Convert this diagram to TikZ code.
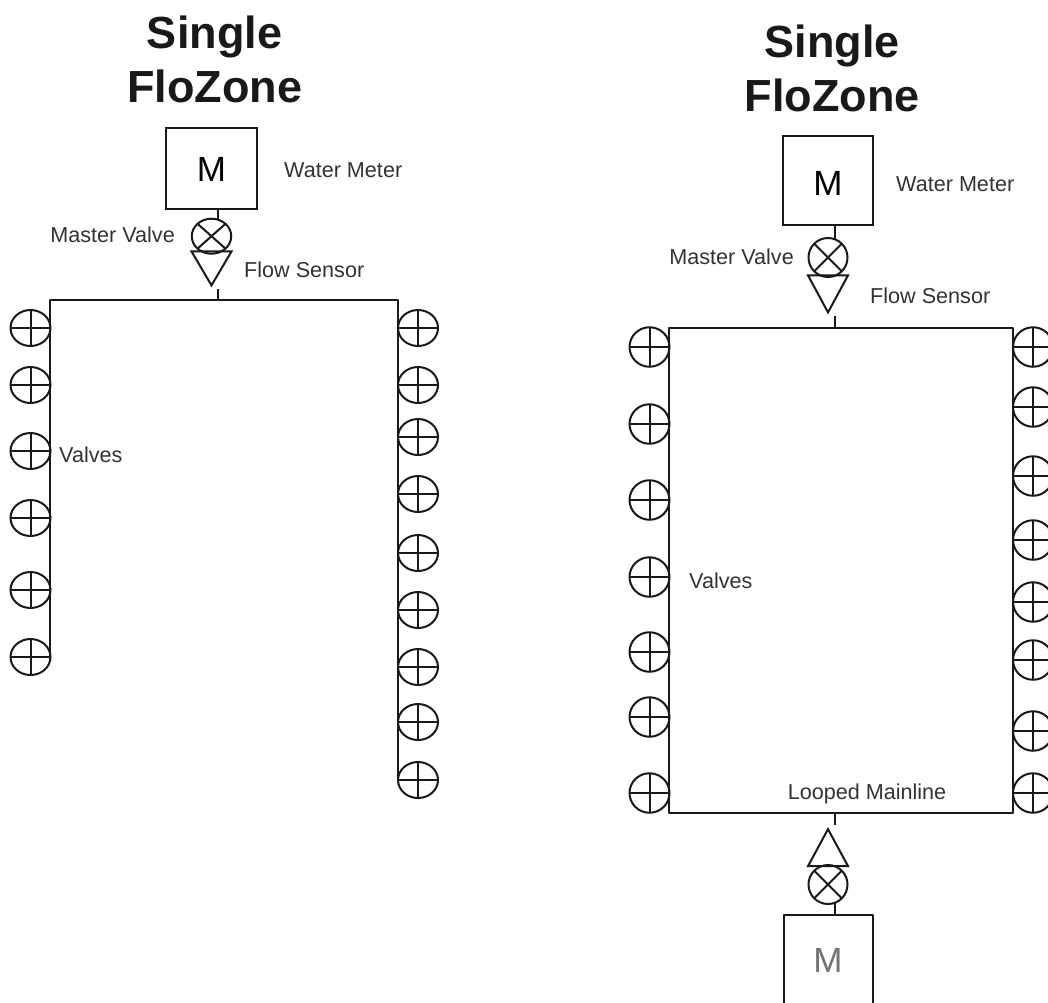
\documentclass[tikz,border=0pt]{standalone}
\usepackage{fontspec}
\setmainfont{Liberation Sans}
\usetikzlibrary{shapes.geometric}
\definecolor{lbl}{HTML}{333333}
\tikzset{
  x=1pt,y=-1pt,
  pipe/.style={draw=black!90,line width=2pt},
  lab/.style={text=lbl,inner sep=0pt,font=\fontsize{21.6}{24}\selectfont},
  ttl/.style={inner sep=0pt,align=center,text=black!90,font=\fontsize{45}{54}\selectfont\bfseries},
  meter/.style={pipe,inner sep=0pt,minimum width=90.4pt,minimum height=80.4pt},
  mletter/.style={inner sep=0pt,font=\fontsize{35}{40}\selectfont},
  plusvalve/.style={pipe,ellipse,inner sep=0pt,minimum width=40pt,minimum height=36pt,
    path picture={\draw[black!90,line width=2pt]
      (path picture bounding box.west)--(path picture bounding box.east)
      (path picture bounding box.north)--(path picture bounding box.south);}},
  crossvalve/.style={pipe,circle,inner sep=0pt,minimum size=39pt,
    path picture={\draw[black!90,line width=2pt]
      (path picture bounding box.north west)--(path picture bounding box.south east)
      (path picture bounding box.north east)--(path picture bounding box.south west);}},
  sensor/.style={pipe,isosceles triangle,isosceles triangle stretches=true,inner sep=0pt,
    minimum width=40pt,minimum height=37pt,anchor=apex},
}
\begin{document}
\begin{tikzpicture}
\useasboundingbox (0,0) rectangle (1048,1002);
\fill[white] (0,0) rectangle (1048,1002);
% ---------- left ----------
\node[ttl] (t1) at (214.5,59) {Single\\FloZone};
\node[meter] (m1) at (211.5,168.5) {};
\node[mletter] (m1l) at (211.5,169.5) {M};
\node[lab,anchor=west] (wm1) at (284,170) {Water Meter};
\node[crossvalve,ellipse,minimum width=39.5pt,minimum height=35pt] (mv1) at (211.5,236.2) {};
\node[lab,anchor=east] (mvl1) at (175,235) {Master Valve};
\node[sensor,shape border rotate=270,minimum height=34pt] (fs1) at (211.5,288) {};
\node[lab,anchor=west] (fsl1) at (244,269.5) {Flow Sensor};
\coordinate (s1a) at (218,208.5);
\coordinate (s1b) at (218,219.5);
\coordinate (s1c) at (218,289);
\coordinate (s1d) at (218,299.5);
\coordinate (l1a) at (50,660);
\coordinate (l1b) at (50,299.5);
\coordinate (l1c) at (398,299.5);
\coordinate (l1d) at (398,780);
\draw[pipe,line join=round] (l1a)--(l1b)--(l1c)--(l1d);
\draw[pipe] (s1a)--(s1b) (s1c)--(s1d);
\foreach \y [count=\i] in {328,385,451,518,590,657}
  \node[plusvalve] (a\i) at (30.5,\y) {};
\foreach \y [count=\i] in {328,385,437,494,553,610,667,722,780}
  \node[plusvalve] (b\i) at (418,\y) {};
\node[lab,anchor=west] (vl1) at (59,455) {Valves};
% ---------- right ----------
\node[ttl] (t2) at (832,68) {Single\\FloZone};
\node[meter,minimum height=89.4pt] (m2) at (828,180.5) {};
\node[mletter] (m2l) at (828,183) {M};
\node[lab,anchor=west] (wm2) at (896,184) {Water Meter};
\node[crossvalve] (mv2) at (828,257.5) {};
\node[lab,anchor=east] (mvl2) at (794,257) {Master Valve};
\node[sensor,shape border rotate=270] (fs2) at (828,315) {};
\node[lab,anchor=west] (fsl2) at (870,296) {Flow Sensor};
\coordinate (s2a) at (835,225);
\coordinate (s2b) at (835,239);
\coordinate (s2c) at (835,316);
\coordinate (s2d) at (835,328);
\coordinate (ra) at (669,328);
\coordinate (rb) at (1013,328);
\coordinate (rc) at (1013,813);
\coordinate (rd) at (669,813);
\draw[pipe,line join=round] (ra)--(rb)--(rc)--(rd)--cycle;
\draw[pipe] (s2a)--(s2b) (s2c)--(s2d);
\foreach \y [count=\i] in {347,424,500,577,652,717,793}
  \node[plusvalve,minimum height=39.5pt] (c\i) at (649.5,\y) {};
\foreach \y [count=\i] in {347,407,476,540,602,660,731,793}
  \node[plusvalve,minimum height=39.5pt] (d\i) at (1033,\y) {};
\node[lab,anchor=west] (vl2) at (689,581) {Valves};
\node[lab,anchor=center] (ll) at (867,794) {Looped Mainline};
% bottom feed
\node[sensor,shape border rotate=90] (fs3) at (828,826.5) {};
\node[crossvalve] (mv3) at (828,884.5) {};
\coordinate (s3a) at (835,813);
\coordinate (s3b) at (835,825);
\coordinate (s3c) at (835,903);
\coordinate (s3d) at (835,915);
\draw[pipe] (s3a)--(s3b) (s3c)--(s3d);
\coordinate (m3a) at (784,1004);
\coordinate (m3b) at (784,915);
\coordinate (m3c) at (873,915);
\coordinate (m3d) at (873,1004);
\draw[pipe,line join=round] (m3a)--(m3b)--(m3c)--(m3d);
\node[mletter,text=black!55] (m3l) at (828,960) {M};
\end{tikzpicture}
\end{document}
